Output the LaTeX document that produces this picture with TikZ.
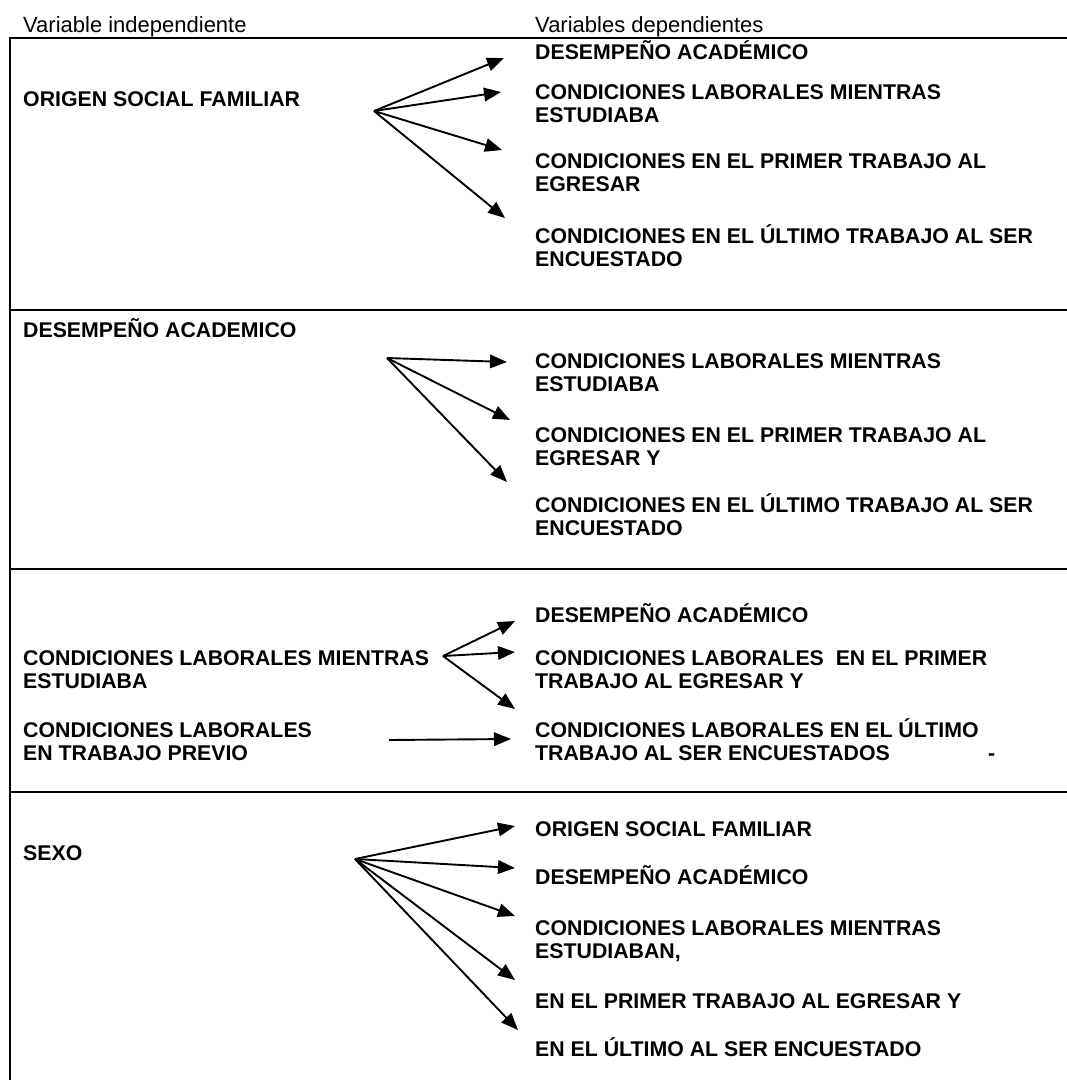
\documentclass[tikz,border=0pt]{standalone}
\usepackage{fontspec}
\setmainfont{Liberation Sans}
\usetikzlibrary{arrows.meta}
\begin{document}
\begin{tikzpicture}[x=1pt,y=-1pt]
				\tikzstyle{Head} = [anchor=base west, inner sep=0pt, font=\fontsize{22}{24}\selectfont]
				\tikzstyle{Var} = [anchor=base west, inner sep=0pt, align=left, font=\fontsize{21.3}{23}\selectfont\bfseries]
				\tikzstyle{Arrow} = [-{Triangle[length=17pt,width=13.5pt]}, line width=1.9pt]
				\useasboundingbox (0,0) rectangle (1067,1080);
				% frame
				\draw[line width=2pt] (1067,37.7) -- (10,37.7) -- (10,1080);
				\draw[line width=2pt] (10,310) -- (1067,310);
				\draw[line width=2pt] (10,569) -- (1067,569);
				\draw[line width=2pt] (10,792) -- (1067,792);
				% headers
				\node (hi) at (23,32) [Head] {Variable independiente};
				\node (hd) at (535,32) [Head] {Variables dependientes};
				% block 1
				\node (i1) at (23,106.5) [Var] {ORIGEN SOCIAL FAMILIAR};
				\node (d11) at (535,59.5) [Var] {DESEMPEÑO ACADÉMICO};
				\node (d12) at (535,122) [Var] {CONDICIONES LABORALES MIENTRAS\\ESTUDIABA};
				\node (d13) at (535,191) [Var] {CONDICIONES EN EL PRIMER TRABAJO AL\\EGRESAR};
				\node (d14) at (535,266) [Var] {CONDICIONES EN EL ÚLTIMO TRABAJO AL SER\\ENCUESTADO};
				\coordinate (o1) at (374,111);
				\coordinate (t11) at (504,58);
				\coordinate (t12) at (501,92);
				\coordinate (t13) at (502,150);
				\coordinate (t14) at (505,218);
				\draw [Arrow] (o1) to (t11);
				\draw [Arrow] (o1) to (t12);
				\draw [Arrow] (o1) to (t13);
				\draw [Arrow] (o1) to (t14);
				% block 2
				\node (i2) at (23,337.5) [Var] {DESEMPEÑO ACADEMICO};
				\node (d21) at (535,391.5) [Var] {CONDICIONES LABORALES MIENTRAS\\ESTUDIABA};
				\node (d22) at (535,465.5) [Var] {CONDICIONES EN EL PRIMER TRABAJO AL\\EGRESAR Y};
				\node (d23) at (535,535.5) [Var] {CONDICIONES EN EL ÚLTIMO TRABAJO AL SER\\ENCUESTADO};
				\coordinate (o2) at (387,358);
				\coordinate (t21) at (507,362);
				\coordinate (t22) at (510,420);
				\coordinate (t23) at (507,482);
				\draw [Arrow] (o2) to (t21);
				\draw [Arrow] (o2) to (t22);
				\draw [Arrow] (o2) to (t23);
				% block 3
				\node (i31) at (23,688.5) [Var] {CONDICIONES LABORALES MIENTRAS\\ESTUDIABA};
				\node (i32) at (23,760.5) [Var] {CONDICIONES LABORALES\\EN TRABAJO PREVIO};
				\node (d31) at (535,622.5) [Var] {DESEMPEÑO ACADÉMICO};
				\node (d32) at (535,688.5) [Var] {CONDICIONES LABORALES~ EN EL PRIMER\\TRABAJO AL EGRESAR Y};
				\node (d33) at (535,760.5) [Var] {CONDICIONES LABORALES EN EL ÚLTIMO\\TRABAJO AL SER ENCUESTADOS};
				\node (dash) at (988,760.5) [Var] {-};
				\coordinate (o3) at (443,656);
				\coordinate (t31) at (515,621);
				\coordinate (t32) at (515,652);
				\coordinate (t33) at (515,709);
				\coordinate (s3) at (389,740);
				\coordinate (t34) at (511,739);
				\draw [Arrow] (o3) to (t31);
				\draw [Arrow] (o3) to (t32);
				\draw [Arrow] (o3) to (t33);
				\draw [Arrow] (s3) to (t34);
				% block 4
				\node (i4) at (23,860.5) [Var] {SEXO};
				\node (d41) at (535,836.5) [Var] {ORIGEN SOCIAL FAMILIAR};
				\node (d42) at (535,884.5) [Var] {DESEMPEÑO ACADÉMICO};
				\node (d43) at (535,958) [Var] {CONDICIONES LABORALES MIENTRAS\\ESTUDIABAN,};
				\node (d44) at (535,1008.5) [Var] {EN EL PRIMER TRABAJO AL EGRESAR Y};
				\node (d45) at (535,1056.5) [Var] {EN EL ÚLTIMO AL SER ENCUESTADO};
				\coordinate (o4) at (355,859);
				\coordinate (t41) at (515,826);
				\coordinate (t42) at (515,868);
				\coordinate (t43) at (515,916);
				\coordinate (t44) at (515,980);
				\coordinate (t45) at (518,1030);
				\draw [Arrow] (o4) to (t41);
				\draw [Arrow] (o4) to (t42);
				\draw [Arrow] (o4) to (t43);
				\draw [Arrow] (o4) to (t44);
				\draw [Arrow] (o4) to (t45);
\end{tikzpicture}
\end{document}
